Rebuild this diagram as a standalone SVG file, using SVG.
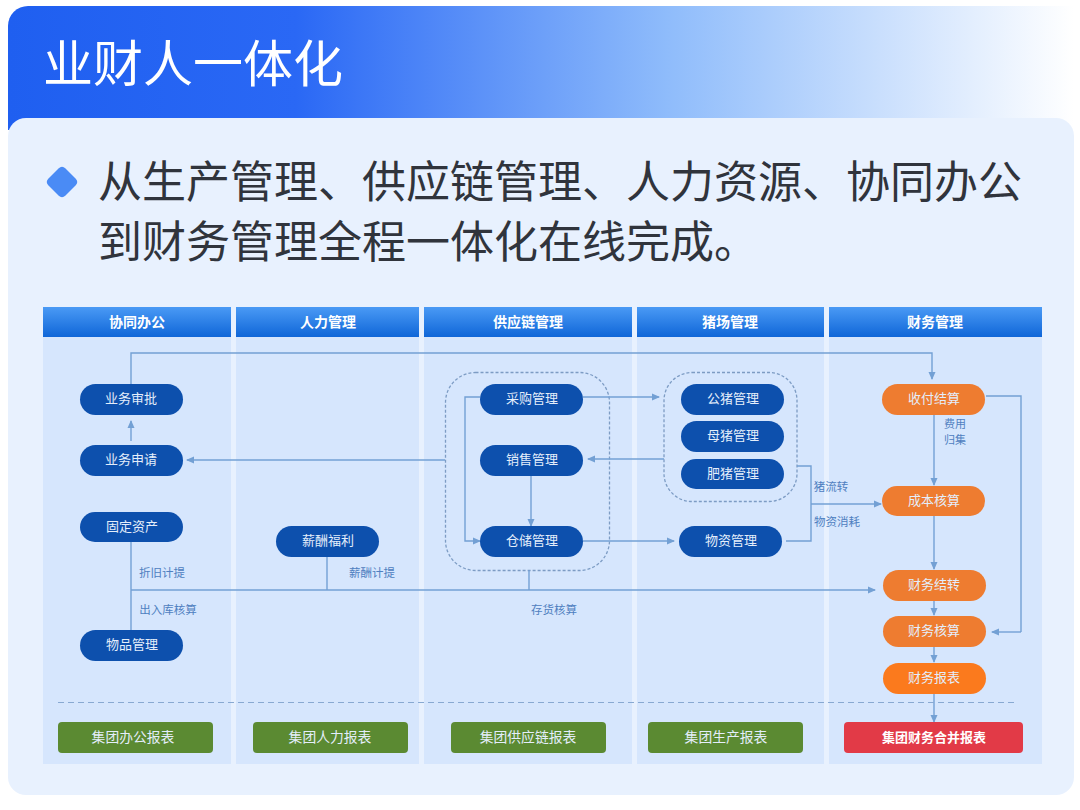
<svg xmlns="http://www.w3.org/2000/svg" width="1080" height="810" viewBox="0 0 1080 810">
<style>
text{font-family:"Noto Sans CJK SC","Noto Sans",sans-serif;text-anchor:middle}
.n{fill:#0d50ad}.o{fill:#ee7c30}.g{fill:#5b8a32}
.nt{fill:#e4eefb;font-size:13px;dominant-baseline:central}
.rt{fill:#e4eefb;font-size:13.800px;dominant-baseline:central}
.h{fill:url(#hd)}
.ht{fill:#fff;font-size:14px;font-weight:700;dominant-baseline:central}
.lb{fill:#4f80c0;font-size:11.500px;dominant-baseline:central}
.c{fill:none;stroke:#73a0d4;stroke-width:1.4}
.ca{fill:none;stroke:#73a0d4;stroke-width:1.4;marker-end:url(#a)}
.col{fill:#d6e6fd}
.dg{fill:none;stroke:#7d9cc4;stroke-width:1.3;stroke-dasharray:3 2}
</style>
<defs>
<linearGradient id="top" x1="0" x2="1" y1="0" y2="0"><stop offset="0" stop-color="#1f5ff0"/><stop offset="0.27" stop-color="#2a68f5"/><stop offset="0.62" stop-color="#8fbcfb"/><stop offset="1" stop-color="#ffffff"/></linearGradient>
<linearGradient id="hd" x1="0" x2="0" y1="0" y2="1"><stop offset="0" stop-color="#4a9af5"/><stop offset="1" stop-color="#0f66d8"/></linearGradient>
<marker id="a" viewBox="0 0 8 8" refX="7" refY="4" markerWidth="8" markerHeight="8" markerUnits="userSpaceOnUse" orient="auto"><path d="M0 0.5L8 4L0 7.5Z" fill="#73a0d4"/></marker>
</defs>
<rect width="1080" height="810" fill="#fff"/>
<g id="banner"><path d="M8 130V26a20 20 0 0 1 20-20H1074V130Z" fill="url(#top)"/>
<text x="193" y="60" style="font-size:50px;fill:#fff;dominant-baseline:central">业财人一体化</text></g>
<g id="panel"><rect x="8" y="118" width="1066" height="677" rx="18" fill="#e8f1fe"/>
<path d="M58.500 168.500Q62 165 65.500 168.500L75.500 178.500Q79 182 75.500 185.500L65.500 195.500Q62 199 58.500 195.500L48.500 185.500Q45 182 48.500 178.500Z" fill="#4a8bf5"/>
<text x="560" y="179" style="font-size:44px;fill:#30343c;dominant-baseline:central">从生产管理、供应链管理、人力资源、协同办公</text>
<text x="428" y="239" style="font-size:44px;fill:#30343c;dominant-baseline:central">到财务管理全程一体化在线完成。</text></g>
<g id="columns">
<rect class="col" x="43" y="337" width="188" height="427"/><rect class="col" x="236" y="337" width="183" height="427"/><rect class="col" x="424" y="337" width="208" height="427"/><rect class="col" x="637" y="337" width="187" height="427"/><rect class="col" x="829" y="337" width="213" height="427"/>
<rect class="h" x="43" y="307" width="188" height="30"/><rect class="h" x="236" y="307" width="183" height="30"/><rect class="h" x="424" y="307" width="208" height="30"/><rect class="h" x="637" y="307" width="187" height="30"/><rect class="h" x="829" y="307" width="213" height="30"/>
<text class="ht" x="137" y="320.500">协同办公</text><text class="ht" x="328" y="320.500">人力管理</text><text class="ht" x="528" y="320.500">供应链管理</text><text class="ht" x="730" y="320.500">猪场管理</text><text class="ht" x="935" y="320.500">财务管理</text>
</g>
<g id="groups"><rect class="dg" x="445.500" y="372.500" width="164" height="198" rx="30"/><rect class="dg" x="664" y="372.500" width="133" height="129" rx="28"/></g>
<g id="connectors">
<path class="ca" d="M131 384V353H932V379"/>
<path class="ca" d="M131 441V421"/>
<path class="ca" d="M445 460H187"/>
<path class="c" d="M131 541V630"/>
<path class="ca" d="M131 590H875"/>
<path class="c" d="M327 556V590"/>
<path class="c" d="M529 570V590"/>
<path class="ca" d="M480 397H465V541H480"/>
<path class="ca" d="M531 475V526"/>
<path class="ca" d="M583 397H659"/>
<path class="ca" d="M664 459H588"/>
<path class="ca" d="M583 541H674"/>
<path class="c" d="M797 466H811V541H786"/>
<path class="ca" d="M811 504H881"/>
<path class="ca" d="M934 414V485"/>
<path class="ca" d="M934 516V569"/>
<path class="c" d="M986 396H1021V632"/>
<path class="ca" d="M1021 632H992"/>
<path class="ca" d="M934 600V615"/>
<path class="ca" d="M934 646V662"/>
<path class="ca" d="M934 694V722"/>
<path d="M58 702.500H1017" fill="none" stroke="#88a9d2" stroke-width="1.2" stroke-dasharray="6 4"/>
</g>
<g id="labels">
<text class="lb" x="162" y="571.500">折旧计提</text><text class="lb" x="168" y="609">出入库核算</text><text class="lb" x="372" y="571.500">薪酬计提</text><text class="lb" x="554" y="608.500">存货核算</text><text class="lb" x="831" y="486">猪流转</text><text class="lb" x="837" y="520.500">物资消耗</text><text class="lb" x="955" y="422.500" style="font-size:11px">费用</text><text class="lb" x="955" y="438.500" style="font-size:11px">归集</text>
</g>
<g id="n1"><rect class="n" x="80" y="384" width="103" height="31" rx="15.500"/><text class="nt" x="131" y="397.500">业务审批</text></g>
<g id="n2"><rect class="n" x="80" y="445" width="103" height="31" rx="15.500"/><text class="nt" x="131" y="458.500">业务申请</text></g>
<g id="n3"><rect class="n" x="80" y="512" width="103" height="30" rx="15"/><text class="nt" x="132" y="525">固定资产</text></g>
<g id="n4"><rect class="n" x="80" y="630" width="103" height="31" rx="15.500"/><text class="nt" x="132" y="643.500">物品管理</text></g>
<g id="n5"><rect class="n" x="276" y="526" width="103" height="31" rx="15.500"/><text class="nt" x="328" y="539.500">薪酬福利</text></g>
<g id="n6"><rect class="n" x="480" y="384" width="103" height="31" rx="15.500"/><text class="nt" x="532" y="397.500">采购管理</text></g>
<g id="n7"><rect class="n" x="480" y="445" width="103" height="31" rx="15.500"/><text class="nt" x="532" y="458.500">销售管理</text></g>
<g id="n8"><rect class="n" x="480" y="526" width="103" height="31" rx="15.500"/><text class="nt" x="532" y="539.500">仓储管理</text></g>
<g id="n9"><rect class="n" x="681" y="384" width="103" height="31" rx="15.500"/><text class="nt" x="733" y="397.500">公猪管理</text></g>
<g id="n10"><rect class="n" x="681" y="421" width="103" height="31" rx="15.500"/><text class="nt" x="733" y="434.500">母猪管理</text></g>
<g id="n11"><rect class="n" x="681" y="459" width="103" height="30" rx="15"/><text class="nt" x="733" y="472.500">肥猪管理</text></g>
<g id="n12"><rect class="n" x="679" y="526" width="103" height="31" rx="15.500"/><text class="nt" x="731" y="539.500">物资管理</text></g>
<g id="n13"><rect class="o" x="882" y="384" width="103" height="31" rx="15.500"/><text class="nt" x="934" y="397.500">收付结算</text></g>
<g id="n14"><rect class="o" x="882" y="486" width="103" height="30" rx="15"/><text class="nt" x="934" y="499.500">成本核算</text></g>
<g id="n15"><rect class="o" x="883" y="570" width="103" height="31" rx="15.500"/><text class="nt" x="934" y="583.500">财务结转</text></g>
<g id="n16"><rect class="o" x="883" y="616" width="103" height="31" rx="15.500"/><text class="nt" x="934" y="629.500">财务核算</text></g>
<g id="n17"><rect x="883" y="663" width="103" height="31" rx="15.500" fill="#fb7a1d"/><text class="nt" x="934" y="676.500">财务报表</text></g>
<g id="r1"><rect class="g" x="58" y="722" width="155" height="31" rx="4"/><text class="rt" x="133" y="736">集团办公报表</text></g>
<g id="r2"><rect class="g" x="253" y="722" width="155" height="31" rx="4"/><text class="rt" x="330" y="736">集团人力报表</text></g>
<g id="r3"><rect class="g" x="451" y="722" width="155" height="31" rx="4"/><text class="rt" x="528" y="736">集团供应链报表</text></g>
<g id="r4"><rect class="g" x="648" y="722" width="155" height="31" rx="4"/><text class="rt" x="726" y="736">集团生产报表</text></g>
<g id="r5"><rect x="844" y="722" width="179" height="31" rx="4" fill="#e23a47"/><text x="934" y="736" style="fill:#fff;font-size:13px;font-weight:700;dominant-baseline:central">集团财务合并报表</text></g>
</svg>
